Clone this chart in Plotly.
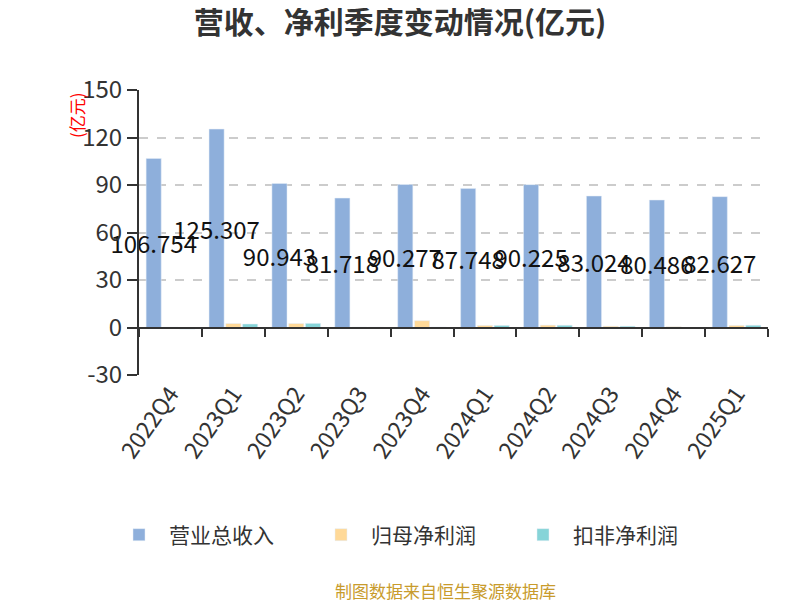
import plotly.graph_objects as go

quarters = ["2022Q4", "2023Q1", "2023Q2", "2023Q3", "2023Q4",
            "2024Q1", "2024Q2", "2024Q3", "2024Q4", "2025Q1"]
revenue = [106.754, 125.307, 90.943, 81.718, 90.277,
           87.748, 90.225, 83.024, 80.486, 82.627]
net_profit = [0.2, 2.5, 2.5, 0.3, 4.3, 1.3, 1.5, 0.8, 0.5, 1.3]
net_profit_deducted = [-1.0, 2.2, 2.6, 0.2, 0.3, 1.3, 1.4, 0.8, -0.4, 1.4]
y_ticks = [-30, 0, 30, 60, 90, 120, 150]

colors = {
    "revenue": "#8EAFDB",
    "profit": "#FFD998",
    "deducted": "#86D4D8",
}

FONT = "Noto Sans CJK SC"

# the page body has an 8px margin, so the figure is laid out 8px up/left
fig = go.Figure()

fig.add_trace(go.Bar(
    x=quarters, y=revenue, name="营业总收入",
    marker_color=colors["revenue"],
    text=[f"{v:g}" for v in revenue],
    textposition="inside", insidetextanchor="middle",
    textangle=0, constraintext="none", cliponaxis=False,
    textfont=dict(size=24, color="#111111", family=FONT),
))
fig.add_trace(go.Bar(
    x=quarters, y=net_profit, name="归母净利润",
    marker_color=colors["profit"],
))
fig.add_trace(go.Bar(
    x=quarters, y=net_profit_deducted, name="扣非净利润",
    marker_color=colors["deducted"],
))

# helper trace so the zero-line axis (xaxis2) gets drawn
fig.add_trace(go.Scatter(
    x=quarters, y=revenue, xaxis="x2", mode="markers",
    marker=dict(opacity=0), showlegend=False, hoverinfo="skip",
))

fig.update_layout(
    width=800, height=600,
    plot_bgcolor="white", paper_bgcolor="white",
    font=dict(family=FONT, color="#333333"),
    title=dict(
        text="<b>营收、净利季度变动情况(亿元)</b>",
        x=0.5 - 8 / 800, xref="container", xanchor="center",
        y=1 - 14 / 600, yanchor="middle",
        font=dict(size=30, color="#333333", family=FONT),
    ),
    margin=dict(l=131, r=40, t=82, b=233),
    barmode="group", bargap=0.2, bargroupgap=0.1,
    xaxis=dict(
        type="category", range=[-0.5, 9.5],
        showline=False, ticks="", showgrid=False,
        tickangle=-55, tickfont=dict(size=23, color="#333333"),
    ),
    xaxis2=dict(
        type="category", overlaying="x", anchor="free",
        position=30 / 180, range=[-0.5, 9.5],
        showline=True, linecolor="#333333", linewidth=2,
        ticks="outside", tickson="boundaries", ticklen=8,
        tickwidth=2, tickcolor="#333333",
        showticklabels=False, showgrid=False,
    ),
    yaxis=dict(
        range=[-30, 150], tickvals=y_ticks,
        ticktext=[str(v) for v in y_ticks],
        showline=True, linecolor="#333333", linewidth=2,
        ticks="outside", ticklen=10, tickwidth=2, tickcolor="#333333",
        showgrid=True, gridcolor="#CCCCCC", gridwidth=1.5, griddash="dash",
        zeroline=False,
        tickfont=dict(size=24, color="#333333"),
    ),
    legend=dict(
        orientation="h", x=(101 - 131) / 629, xanchor="left",
        y=(367 - 527) / 285, yanchor="middle",
        font=dict(size=21, color="#333333"),
        entrywidth=137, entrywidthmode="pixels",
        itemwidth=50,
    ),
    annotations=[
        dict(
            text="(亿元)", textangle=-90,
            x=(68 - 131) / 629, y=(367 - 107) / 285,
            xref="paper", yref="paper", showarrow=False,
            xanchor="center", yanchor="middle",
            font=dict(size=17, color="red"),
        ),
        dict(
            text="制图数据来自恒生聚源数据库",
            x=0.5 - 8 / 629, xref="paper", xanchor="center",
            y=(367 - 582) / 285, yref="paper", yanchor="middle",
            showarrow=False,
            font=dict(size=17, color="#C89B2C"),
        ),
    ],
)

fig.write_html("out.html")
